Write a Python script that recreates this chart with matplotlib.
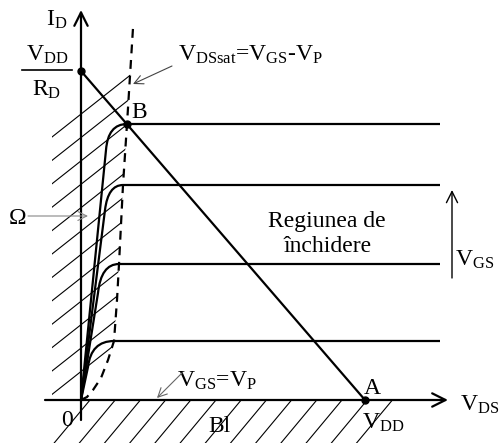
import numpy as np
import matplotlib.pyplot as plt
from matplotlib.path import Path
from matplotlib.patches import PathPatch, Polygon

plt.rcParams['font.family'] = 'Liberation Serif'
plt.rcParams['mathtext.fontset'] = 'custom'
plt.rcParams['mathtext.rm'] = 'Liberation Serif'
plt.rcParams['mathtext.it'] = 'Liberation Serif'

# V_DS / I_D in drawing units, origin at (0, 0)
v_dd = 284
i_dd = 329      # V_DD / R_D
v_end = 359     # right end of the saturation lines

# output characteristics: saturation current, knee, end of the ohmic stretch, corner control
i_sat = [276, 215, 136, 59]
v_knee = [46, 42, 38, 33]
v_lin = [25, 24, 17, 7]
i_lin = [250, 190, 107, 33]
v_ctrl = [27, 27, 20, 10]

# V_DSsat = V_GS - V_P boundary
v_pinch = [0, 6, 12, 20, 27, 33, 36, 38, 42, 46, 52]
i_pinch = [0, 3, 10, 22, 40, 59, 100, 136, 215, 276, 372]

fig = plt.figure(figsize=(5, 4.43), dpi=100)
ax = fig.add_axes([0, 0, 1, 1])
ax.set_xlim(-81, 419)
ax.set_ylim(-43, 400)
ax.axis('off')

lw = 1.6
fs = 17
axis_arrow = dict(arrowstyle='->', lw=lw, mutation_scale=24, shrinkA=0, shrinkB=0, color='black')
ax.annotate('', xy=(367, 0), xytext=(-36, 0), arrowprops=axis_arrow)
ax.annotate('', xy=(0, 390), xytext=(0, -20), arrowprops=axis_arrow)

# hatching of the ohmic region, left of the pinch-off curve
ohmic = Polygon(np.column_stack([[-29] + v_pinch + [-29], [0] + i_pinch + [372]]),
                closed=True, fill=False, edgecolor='none')
ax.add_patch(ohmic)
for i0 in np.arange(263, 0, -23.4):
    ln, = ax.plot([-29, 80], [i0, i0 + 0.79 * 109], color='black', lw=0.8)
    ln.set_clip_path(ohmic)

# hatching of the cut-off region under the V_DS axis
for v0 in np.arange(9, 320, 25.2):
    ax.plot([v0, v0 - 43 / 1.2], [0, -43], color='black', lw=0.8)

# output characteristics
for isat, vk, vl, il, vc in zip(i_sat, v_knee, v_lin, i_lin, v_ctrl):
    verts = [(0, 0), (vl, il), (vc, isat), (vk, isat), (v_end, isat)]
    codes = [Path.MOVETO, Path.LINETO, Path.CURVE3, Path.CURVE3, Path.LINETO]
    ax.add_patch(PathPatch(Path(verts, codes), fill=False, lw=lw, edgecolor='black'))

ax.plot(v_pinch, i_pinch, color='black', lw=lw, ls=(0, (4, 3)))

# load line
ax.plot([0, v_dd], [i_dd, 0], color='black', lw=lw)
ax.plot([0, v_knee[0], v_dd], [i_dd, i_sat[0], 0], 'o', color='black', ms=5)

# labels
ax.text(-24, 380, r'$\mathrm{I_D}$', fontsize=fs, ha='center', va='center')
ax.text(-34, 345, r'$\mathrm{V_{DD}}$', fontsize=fs, ha='center', va='center')
ax.plot([-59, -9], [330, 330], color='black', lw=1.2)
ax.text(-34, 310, r'$\mathrm{R_D}$', fontsize=fs, ha='center', va='center')
ax.text(58, 288, 'B', fontsize=fs, ha='center', va='center')

ax.text(97, 345, r'$\mathrm{V_{DSsat}}$=$\mathrm{V_{GS}}$-$\mathrm{V_P}$', fontsize=fs,
        ha='left', va='center')
ax.annotate('', xy=(52, 316), xytext=(91, 334),
            arrowprops=dict(arrowstyle='->', lw=0.8, color='#444444', mutation_scale=16,
                            shrinkA=0, shrinkB=0))

ax.text(-63, 182, 'Ω', fontsize=fs, ha='center', va='center')
ax.annotate('', xy=(7, 184), xytext=(-53, 184),
            arrowprops=dict(arrowstyle='->', lw=0.8, color='#888888', mutation_scale=16,
                            shrinkA=0, shrinkB=0))

ax.text(246, 179, 'Regiunea de', fontsize=fs, ha='center', va='center')
ax.text(247, 154, 'închidere', fontsize=fs, ha='center', va='center')

ax.annotate('', xy=(371, 210), xytext=(371, 122),
            arrowprops=dict(arrowstyle='->', lw=1.0, color='black', mutation_scale=20,
                            shrinkA=0, shrinkB=0))
ax.text(374, 140, r'$\mathrm{V_{GS}}$', fontsize=fs, ha='left', va='center')

ax.text(96, 19, r'$\mathrm{V_{GS}}$=$\mathrm{V_P}$', fontsize=fs, ha='left', va='center')
ax.annotate('', xy=(76, 2), xytext=(101, 27),
            arrowprops=dict(arrowstyle='->', lw=0.8, color='#666666', mutation_scale=16,
                            shrinkA=0, shrinkB=0))

ax.text(-14, -20, '0', fontsize=fs, ha='center', va='center')
ax.text(138, -26, 'Bl', fontsize=fs, ha='center', va='center')
ax.text(291, 12, 'A', fontsize=fs, ha='center', va='center')
ax.text(281, -23, r'$\mathrm{V_{DD}}$', fontsize=fs, ha='left', va='center')
ax.text(379, -5, r'$\mathrm{V_{DS}}$', fontsize=fs, ha='left', va='center')

fig.savefig('out.png', dpi=100)
